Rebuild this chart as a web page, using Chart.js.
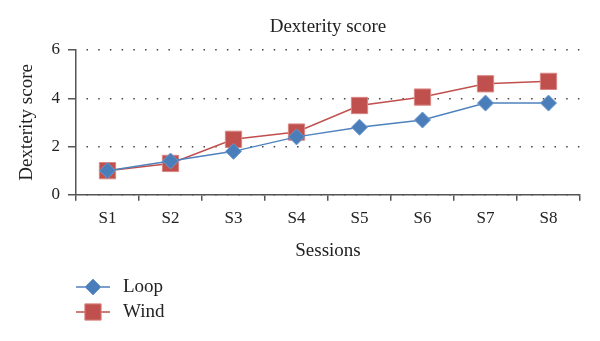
<!DOCTYPE html>
<html>
<head>
<meta charset="utf-8">
<script src="https://cdn.jsdelivr.net/npm/chart.js@4/dist/chart.umd.min.js"></script>
<style>
  html, body { margin: 0; padding: 0; background: #fff; }
  #wrap { width: 600px; height: 341px; }
</style>
</head>
<body>
<div id="wrap"><canvas id="line-chart"></canvas></div>
<script>
let sesiones = ["S1", "S2", "S3", "S4", "S5", "S6", "S7", "S8"];
let loop = [1.0, 1.4, 1.8, 2.4, 2.8, 3.1, 3.8, 3.8];
let wind = [1.0, 1.3, 2.3, 2.6, 3.7, 4.05, 4.6, 4.7];
let yTicks = [0, 2, 4, 6];
let titulo = "Dexterity score";

const serif = "'Liberation Serif', 'DejaVu Serif', serif";

// titulo centrado sobre el area del grafico
const tituloPlugin = {
    id: 'tituloPlugin',
    afterDraw(chart) {
        const ctx = chart.ctx;
        const a = chart.chartArea;
        ctx.save();
        ctx.fillStyle = '#222';
        ctx.font = "19px " + serif;
        ctx.textAlign = 'center';
        ctx.textBaseline = 'middle';
        ctx.fillText(titulo, (a.left + a.right) / 2, 27);
        ctx.restore();
    }
};

// leyenda vertical abajo a la izquierda, dibujada a mano
const leyenda = {
    id: 'leyenda',
    afterDraw(chart) {
        const ctx = chart.ctx;
        const h = Chart.helpers;
        chart.data.datasets.forEach((ds, i) => {
            const y = 287 + i * 25;
            const x0 = 76, x1 = 110, xm = 93;
            ctx.save();
            ctx.strokeStyle = ds.borderColor;
            ctx.lineWidth = 1.5;
            ctx.beginPath();
            ctx.moveTo(x0, y);
            ctx.lineTo(x1, y);
            ctx.stroke();
            ctx.fillStyle = ds.pointBackgroundColor;
            ctx.strokeStyle = ds.pointBorderColor;
            ctx.lineWidth = 1;
            h.drawPoint(ctx, {
                pointStyle: ds.pointStyle,
                radius: ds.pointRadius,
                borderWidth: 1,
                rotation: 0
            }, xm, y);
            ctx.fillStyle = '#222';
            ctx.font = "19px " + serif;
            ctx.textBaseline = 'middle';
            ctx.textAlign = 'left';
            ctx.fillText(ds.label, 123, y);
            ctx.restore();
        });
    }
};

new Chart(document.getElementById("line-chart"), {
    type: 'line',
    data: {
        labels: sesiones,
        datasets: [{
            data: loop,
            label: "Loop",
            borderColor: "#4f81bd",
            backgroundColor: "#4f81bd",
            borderWidth: 1.5,
            pointStyle: 'rectRot',
            pointRadius: 8,
            pointHoverRadius: 8,
            pointBackgroundColor: "#4a7ebb",
            pointBorderColor: "#6f97c8",
            pointBorderWidth: 1,
            fill: false
        }, {
            data: wind,
            label: "Wind",
            borderColor: "#c0504d",
            backgroundColor: "#c0504d",
            borderWidth: 1.5,
            pointStyle: 'rect',
            pointRadius: 11.5,
            pointHoverRadius: 11.5,
            pointBackgroundColor: "#c0504d",
            pointBorderColor: "#d98784",
            pointBorderWidth: 1,
            fill: false
        }]
    },
    options: {
        responsive: true,
        maintainAspectRatio: false,
        animation: false,
        layout: { padding: { left: 0, right: 20, top: 50, bottom: 79 } },
        plugins: {
            legend: { display: false },
            tooltip: { enabled: false },
            title: { display: false }
        },
        scales: {
            x: {
                offset: true,
                grid: {
                    offset: true,
                    drawOnChartArea: false,
                    drawTicks: true,
                    tickLength: 6,
                    color: '#555',
                    lineWidth: 1.5
                },
                border: { color: '#555', width: 1.5 },
                ticks: {
                    color: '#222',
                    padding: 8,
                    maxRotation: 0,
                    font: { family: serif, size: 17 }
                },
                title: {
                    display: true,
                    text: 'Sessions',
                    color: '#222',
                    padding: { top: 2, bottom: 0 },
                    font: { family: serif, size: 19 }
                }
            },
            y: {
                min: 0,
                max: 6,
                afterBuildTicks: s => { s.ticks = yTicks.map(v => ({ value: v })); },
                afterFit: s => { s.width = 76; },
                grid: {
                    color: '#444',
                    lineWidth: 1.5,
                    tickLength: 8,
                    tickColor: '#555',
                    tickWidth: 1.5,
                    tickBorderDash: []
                },
                border: { color: '#555', width: 1.5, dash: [1.5, 10.2], dashOffset: -10 },
                ticks: {
                    color: '#222',
                    padding: 8,
                    font: { family: serif, size: 17 }
                },
                title: {
                    display: true,
                    text: titulo,
                    color: '#222',
                    padding: { top: 16, bottom: 0 },
                    font: { family: serif, size: 19 }
                }
            }
        }
    },
    plugins: [tituloPlugin, leyenda]
});
</script>
</body>
</html>
